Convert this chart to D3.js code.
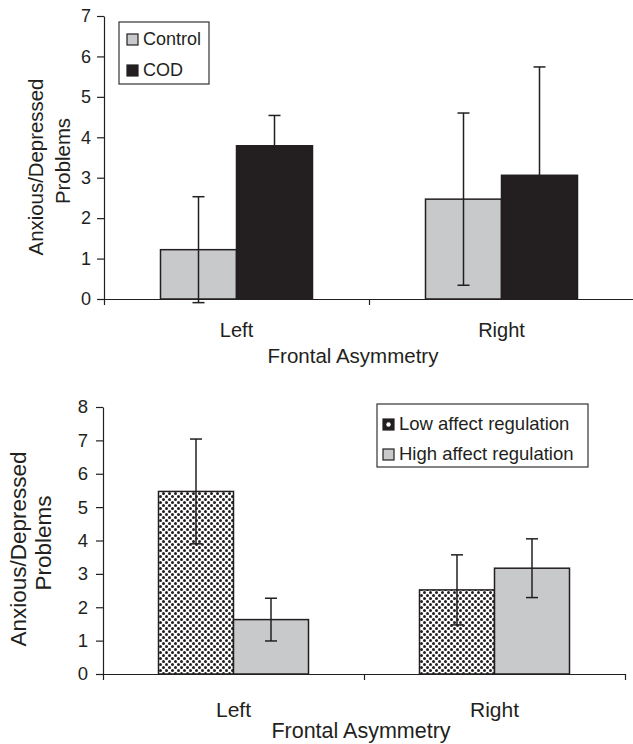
<!DOCTYPE html>
<html>
<head>
  <meta charset="utf-8">
  <title></title>
  <script src="https://cdnjs.cloudflare.com/ajax/libs/d3/7.8.5/d3.min.js"></script>
  <style>
    body { margin: 0; background: #fff; }
    text { font-family: "Liberation Sans", Arial, sans-serif; fill: #231f20; }
  </style>
</head>
<body>
<script>
const width = 633;
const height = 744;

// data
const categories = ['Left', 'Right'];

const topSeries = ['Control', 'COD'];
const controlMean = [1.22, 2.47];
const controlErr = [1.31, 2.13];
const codMean = [3.79, 3.06];
const codErr = [0.75, 2.68];

const bottomSeries = ['Low affect regulation', 'High affect regulation'];
const lowMean = [5.47, 2.52];
const lowErr = [1.57, 1.05];
const highMean = [1.63, 3.17];
const highErr = [0.64, 0.88];

const topTicks = [0, 1, 2, 3, 4, 5, 6, 7];
const bottomTicks = [0, 1, 2, 3, 4, 5, 6, 7, 8];

const ink = '#231f20';
const grey = '#c8c9cb';

const svg = d3.select('body').append('svg')
  .attr('width', width)
  .attr('height', height);

// dotted fill for "low affect regulation"
const pat = svg.append('defs').append('pattern')
  .attr('id', 'dots')
  .attr('patternUnits', 'userSpaceOnUse')
  .attr('width', 6).attr('height', 6);
pat.append('rect').attr('width', 6).attr('height', 6).attr('fill', '#fff');
pat.append('circle').attr('cx', 1.5).attr('cy', 1.5).attr('r', 1.5).attr('fill', ink);
pat.append('circle').attr('cx', 4.5).attr('cy', 4.5).attr('r', 1.5).attr('fill', ink);

const drawChart = (cfg) => {
  const g = svg.append('g');

  const x0 = d3.scaleBand().domain(categories).range([cfg.left, cfg.right]).padding(0);
  const x1 = d3.scaleBand().domain(cfg.series)
    .range([x0.bandwidth() / 2 - cfg.barW, x0.bandwidth() / 2 + cfg.barW]);
  const xEdge = d3.scaleLinear().domain([0, categories.length]).range([cfg.left, cfg.right]);
  const y = d3.scaleLinear().domain([0, d3.max(cfg.ticks)]).range([cfg.bottom, cfg.top]);

  // y axis
  const yAx = g.append('g')
    .attr('transform', `translate(${cfg.left},0)`)
    .call(d3.axisLeft(y).tickValues(cfg.ticks).tickFormat(d3.format('d'))
      .tickSize(7).tickSizeOuter(0).tickPadding(cfg.tickPad));
  yAx.selectAll('text').style('font-size', cfg.tickFont + 'px');
  yAx.selectAll('line,path').attr('stroke', ink).attr('stroke-width', 1.2);

  // bars
  const rows = [];
  categories.forEach((c, i) => {
    cfg.means.forEach((m, s) => {
      rows.push({cat: c, ser: cfg.series[s], mean: m[i], err: cfg.errs[s][i], fill: cfg.fills[s]});
    });
  });

  g.selectAll('rect.bar').data(rows).enter()
    .append('rect')
    .attr('class', 'bar')
    .attr('x', d => x0(d.cat) + x1(d.ser))
    .attr('y', d => y(d.mean))
    .attr('width', x1.bandwidth())
    .attr('height', d => y(0) - y(d.mean))
    .attr('fill', d => d.fill)
    .attr('stroke', ink)
    .attr('stroke-width', 1.5);

  // x axis: boundary ticks
  const xAx = g.append('g')
    .attr('transform', `translate(0,${cfg.bottom})`)
    .call(d3.axisBottom(xEdge).tickValues(d3.range(categories.length + 1)).tickFormat('').tickSize(6).tickSizeOuter(0));
  xAx.selectAll('line,path').attr('stroke', ink).attr('stroke-width', 1.2);

  // category labels
  const xLab = g.append('g')
    .attr('transform', `translate(0,${cfg.bottom})`)
    .call(d3.axisBottom(x0).tickSize(0).tickPadding(cfg.catPad));
  xLab.select('.domain').remove();
  xLab.selectAll('text').style('font-size', cfg.catFont + 'px');

  // error bars
  const cap = 6;
  const eb = g.selectAll('g.err').data(rows).enter().append('g')
    .attr('transform', d => `translate(${x0(d.cat) + x1(d.ser) + x1.bandwidth() / 2},0)`)
    .attr('stroke', ink).attr('stroke-width', 1.5);
  eb.append('line').attr('y1', d => y(d.mean - d.err)).attr('y2', d => y(d.mean + d.err));
  eb.append('line').attr('x1', -cap).attr('x2', cap).attr('y1', d => y(d.mean + d.err)).attr('y2', d => y(d.mean + d.err));
  eb.append('line').attr('x1', -cap).attr('x2', cap).attr('y1', d => y(d.mean - d.err)).attr('y2', d => y(d.mean - d.err));

  // axis titles
  g.append('text')
    .attr('x', (cfg.left + cfg.right) / 2 + cfg.titleShift)
    .attr('y', cfg.titleY)
    .attr('text-anchor', 'middle')
    .style('font-size', cfg.titleFont + 'px')
    .text('Frontal Asymmetry');

  const yl = g.append('text')
    .attr('transform', `translate(${cfg.yLabX},${cfg.yLabY}) rotate(-90)`)
    .attr('text-anchor', 'middle')
    .style('font-size', cfg.yFont + 'px');
  yl.append('tspan').attr('x', 0).attr('y', 0).text('Anxious/Depressed');
  yl.append('tspan').attr('x', 6).attr('y', cfg.yLine).text('Problems');

  // legend
  const lg = g.append('g').attr('transform', `translate(${cfg.leg.x},${cfg.leg.y})`);
  lg.append('rect')
    .attr('width', cfg.leg.w).attr('height', cfg.leg.h)
    .attr('fill', '#fff').attr('stroke', '#333').attr('stroke-width', 1.2);
  cfg.series.forEach((s, i) => {
    const row = lg.append('g').attr('transform', `translate(${cfg.leg.pad},${cfg.leg.first + i * cfg.leg.step})`);
    row.append('rect')
      .attr('x', 0).attr('y', -11).attr('width', 11).attr('height', 11)
      .attr('fill', cfg.legFills[i]).attr('stroke', ink).attr('stroke-width', 1.2);
    if (cfg.legDot[i]) {
      row.append('circle').attr('cx', 5.5).attr('cy', -5.5).attr('r', 2.2).attr('fill', '#fff');
    }
    row.append('text')
      .attr('x', 16).attr('y', 0)
      .style('font-size', cfg.legFont + 'px')
      .text(s);
  });
};

drawChart({
  left: 104, right: 634, top: 16, bottom: 299,
  ticks: topTicks, barW: 76,
  series: topSeries, means: [controlMean, codMean], errs: [controlErr, codErr],
  fills: [grey, ink], legFills: [grey, ink], legDot: [false, false],
  tickFont: 18, tickPad: 6, catFont: 20, catPad: 24,
  titleFont: 20.5, titleY: 363, titleShift: -16,
  yFont: 20.4, yLabX: 43, yLabY: 167, yLine: 27,
  leg: {x: 119, y: 22, w: 90, h: 62, pad: 8, first: 23, step: 31},
  legFont: 18
});

drawChart({
  left: 103, right: 625, top: 407, bottom: 674,
  ticks: bottomTicks, barW: 75,
  series: bottomSeries, means: [lowMean, highMean], errs: [lowErr, highErr],
  fills: ['url(#dots)', grey], legFills: [ink, grey], legDot: [true, false],
  tickFont: 18.5, tickPad: 8, catFont: 21, catPad: 28,
  titleFont: 21.5, titleY: 738, titleShift: -3,
  yFont: 22.5, yLabX: 26, yLabY: 549, yLine: 25,
  leg: {x: 377, y: 404, w: 211, h: 63, pad: 6, first: 26, step: 30},
  legFont: 18.5
});
</script>
</body>
</html>
